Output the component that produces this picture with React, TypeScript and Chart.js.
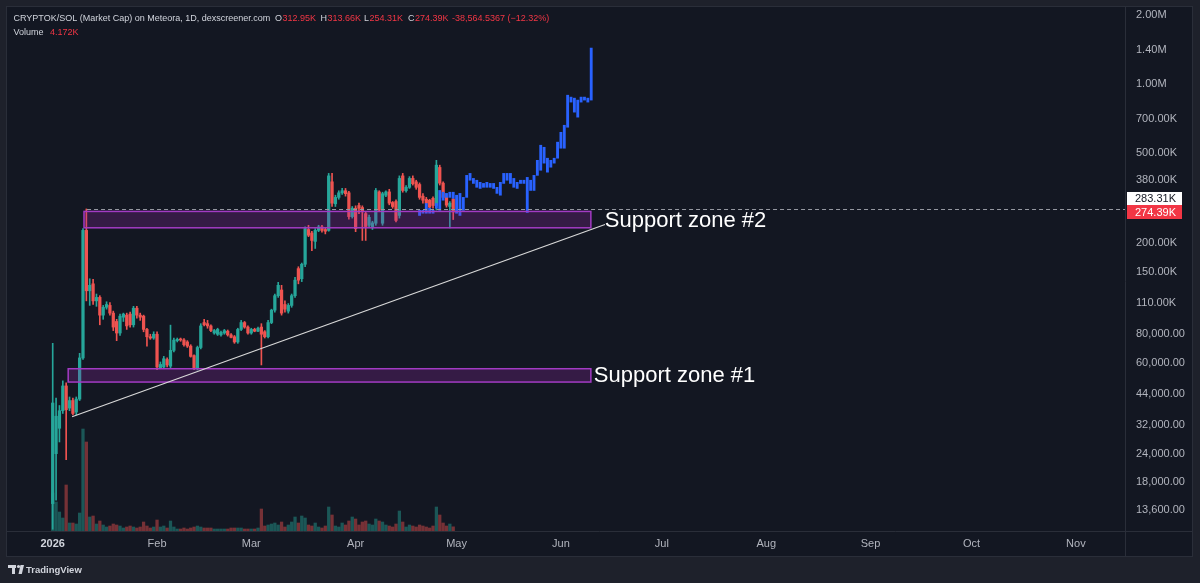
import React, { useEffect, useRef } from 'react';
import { Chart, registerables } from 'chart.js';

Chart.register(...registerables);

// ---------------- DATA ----------------
// Daily candles, day index 0 = 1 Jan 2026. Values in thousands (K) of market cap.
const firstDay = 0;
const openK = [
  14.5, 24, 31, 37, 47.5, 38, 41, 36.5, 41.6, 63,
  228, 124, 133, 112, 116, 97, 105, 107, 99, 91,
  81, 95, 97, 98, 88, 104, 97, 96, 84, 78,
  77, 80, 57, 57.5, 62, 58, 68, 75, 76, 75.5,
  74, 71, 64.5, 57, 70, 90, 89, 87, 81, 80,
  79.5, 81, 82.5, 79.5, 78, 74, 84, 90, 86, 81,
  84, 82.5, 86, 82, 78, 90, 102, 118, 125, 108,
  101, 107, 118, 155, 140, 162, 230, 222, 204, 228,
  236, 230, 228, 372, 298, 318, 333, 340, 333, 262,
  285, 293, 287, 270, 240, 236, 245, 336, 245, 325,
  336, 302, 305, 265, 395, 340, 352, 385, 372, 362,
  322, 312, 309, 315, 293, 430, 367, 318, 290, 312.95,
];
const highK = [
  73, 42, 39, 50, 49, 42.5, 42, 42.5, 66, 232,
  283, 140, 139, 120, 118, 107, 111, 110, 101, 93,
  98, 99, 99, 100, 106, 106, 99, 97, 85, 80,
  82, 82, 60.5, 64, 63, 87.7, 77, 77, 77, 76.5,
  75, 72, 65, 71, 89, 93, 92, 88, 84, 85,
  82.5, 84, 83.5, 80.5, 79, 85, 92, 91, 87, 85,
  85, 86, 89, 83, 92, 103, 120, 135, 131, 112,
  109, 120, 142, 158, 164, 236, 240, 226, 232, 240,
  240, 233, 405, 405, 325, 340, 348, 348, 338, 290,
  292, 300, 292, 275, 266, 250, 348, 340, 335, 340,
  345, 305, 310, 395, 405, 358, 392, 395, 378, 368,
  330, 318, 312, 320, 462, 440, 372, 322, 305, 313.66,
];
const lowK = [
  11.2, 15, 27, 36, 22.6, 37, 35.5, 35.5, 41, 62,
  112, 107, 108, 106, 88, 93, 103, 97, 83, 75,
  79, 91, 84, 86, 86, 94, 92, 82, 71, 76,
  76, 56, 56.5, 56.5, 57.5, 57, 67, 74, 74.5, 71,
  70, 63.5, 56, 55.8, 69, 87, 85, 82, 80, 79,
  78.5, 80, 78.5, 77, 73, 73, 83, 85, 80, 80,
  82, 82, 58.7, 77, 77, 89, 100, 116, 97, 100,
  99, 105, 116, 133, 136, 158, 214, 186, 190, 225,
  224, 220, 226, 290, 290, 312, 328, 322, 255, 258,
  225, 270, 206, 206, 236, 230, 240, 275, 240, 320,
  295, 285, 248, 258, 335, 335, 348, 360, 345, 312,
  300, 293, 280, 285, 280, 360, 312, 288, 234, 254.31,
];
const closeK = [
  40, 35, 37, 47.5, 37.4, 41, 36, 41.6, 63, 228,
  124, 131, 112, 116, 97, 105, 108, 99, 86, 81,
  96, 98, 87, 88, 104, 97, 95, 84, 78, 77,
  80, 57.5, 59, 62.5, 58.7, 68, 75.4, 76, 75.5, 72,
  71, 64, 57, 70, 87, 88, 87, 83, 83, 84,
  81.5, 83, 79.5, 77.5, 74, 84, 90, 86, 81, 84,
  82.5, 85, 80, 78, 90, 102, 118, 131, 99, 103,
  107, 118, 138, 138, 162, 232, 217, 206, 228, 236,
  228, 226, 395, 300, 318, 333, 340, 330, 262, 285,
  232, 285, 275, 237, 260, 246, 341, 280, 330, 336,
  300, 290, 252, 385, 341, 352, 385, 365, 352, 318,
  309, 300, 288, 293, 440, 367, 318, 294, 300, 274.39,
];
// Volume in thousands
const volumeK = [
  38, 29, 19, 13, 46, 8, 8, 7, 18, 102,
  89, 14, 15, 7, 10, 6, 4, 5, 7, 6,
  5, 3, 4, 5, 4, 3, 4, 9, 5, 3,
  4, 11, 4, 5, 3, 10, 4, 2, 2, 3,
  2, 3, 4, 5, 4, 3, 3, 3, 2, 2,
  2, 2, 2, 3, 3, 3, 3, 2, 2, 2,
  2, 3, 22, 5, 6, 7, 8, 6, 9, 4,
  6, 9, 14, 8, 15, 13, 6, 5, 8, 4,
  3, 5, 24, 16, 5, 4, 8, 6, 10, 14,
  12, 6, 9, 10, 7, 6, 12, 10, 9, 6,
  5, 4, 7, 20, 9, 4, 6, 5, 4, 6,
  5, 4, 3, 5, 24, 16, 8, 5, 7, 4.172,
];
// Projected ("bars pattern") blue bars, starting at day 109
const blueFirstDay = 109;
const blueHighK = [
  279, 279, 299, 285, 279, 299, 341, 335, 331, 335,
  335, 325, 331, 318, 397, 405, 385, 378, 370, 366,
  370, 366, 366, 352, 370, 405, 405, 405, 385, 370,
  378, 378, 389, 378, 397, 462, 538, 527, 472, 462,
  472, 555, 613, 658, 891, 874, 865, 848, 874, 874,
  865, 1433,
];
const blueLowK = [
  265, 271, 271, 271, 271, 285, 279, 309, 318, 318,
  315, 271, 265, 279, 318, 378, 366, 352, 348, 352,
  352, 352, 348, 331, 325, 366, 378, 366, 352, 348,
  366, 366, 273, 341, 341, 397, 418, 449, 410, 431,
  449, 472, 522, 522, 645, 831, 751, 714, 831, 848,
  831, 848,
];

// Axis ticks
const priceTicks = [13600, 18000, 24000, 32000, 44000, 60000, 80000, 110000, 150000, 200000, 380000, 500000, 700000, 1000000, 1400000, 2000000];
const monthTickDays = [0, 31, 59, 90, 120, 151, 181, 212, 243, 273, 304];
const monthTickLabels = ['2026', 'Feb', 'Mar', 'Apr', 'May', 'Jun', 'Jul', 'Aug', 'Sep', 'Oct', 'Nov'];

// Drawings (data coordinates)
const zoneNames = ['Support zone #1', 'Support zone #2'];
const zoneLowK = [49.4, 234];
const zoneHighK = [56.5, 276];
const zoneStartDays = [4.6, 9.3];
const zoneEndDays = [159.9, 159.9];
const trendDays = [5.75, 164.1];
const trendK = [34.8, 242];
const rayStartDay = 10.2;
const rayK = 283.31;
const lastK = 274.39;

// Header legend
const headerTitle = 'CRYPTOK/SOL (Market Cap) on Meteora, 1D, dexscreener.com';
const headerOHLC = [['O', '312.95K'], ['H', '313.66K'], ['L', '254.31K'], ['C', '274.39K']];
const headerChange = '-38,564.5367 (\u221212.32%)';
const headerVolume = '4.172K';

// ---------------- STYLE ----------------
const FONT = '"Liberation Sans", Arial, sans-serif';
const OUTER_BG = '#1e212b';
const PANE_BG = '#131722';
const LINE = '#2a2e39';
const TEXT = '#b2b5be';
const UP = '#26a69a';
const DOWN = '#ef5350';
const UP_VOL = 'rgba(38,166,154,0.45)';
const DOWN_VOL = 'rgba(239,83,80,0.45)';
const BLUE = '#2962ff';
const RED_TAG = '#f23645';
const X_MIN = -13.58;
const X_MAX = 318.6;
const Y_MIN = 11003;
const Y_MAX = 2168000;

function fmtPrice(v: number): string {
  if (v >= 1e6) return (v / 1e6).toFixed(2) + 'M';
  if (v >= 1e5) return (v / 1e3).toFixed(2) + 'K';
  return v.toLocaleString('en-US', { minimumFractionDigits: 2, maximumFractionDigits: 2 });
}

const decorPlugin = {
  id: 'decor',
  beforeDraw(chart: any) {
    const { ctx, width, height } = chart;
    ctx.save();
    ctx.fillStyle = OUTER_BG;
    ctx.fillRect(0, 0, width, height);
    ctx.fillStyle = PANE_BG;
    ctx.fillRect(7, 7, 1185, 549);
    ctx.restore();
  },
  afterDatasetsDraw(chart: any) {
    const { ctx, chartArea } = chart;
    const xs = chart.scales.x;
    const ys = chart.scales.y;
    ctx.save();
    ctx.beginPath();
    ctx.rect(chartArea.left, chartArea.top, chartArea.right - chartArea.left, chartArea.bottom - chartArea.top);
    ctx.clip();

    // dashed horizontal ray
    const ry = Math.round(ys.getPixelForValue(rayK * 1000)) + 0.5;
    ctx.strokeStyle = '#9598a1';
    ctx.lineWidth = 1;
    ctx.setLineDash([4, 3]);
    ctx.beginPath();
    ctx.moveTo(xs.getPixelForValue(rayStartDay), ry);
    ctx.lineTo(chartArea.right, ry);
    ctx.stroke();
    ctx.setLineDash([]);

    // zones
    for (let i = 0; i < zoneNames.length; i++) {
      const x0 = xs.getPixelForValue(zoneStartDays[i]);
      const x1 = xs.getPixelForValue(zoneEndDays[i]);
      const y0 = ys.getPixelForValue(zoneHighK[i] * 1000);
      const y1 = ys.getPixelForValue(zoneLowK[i] * 1000);
      ctx.fillStyle = 'rgba(156,39,176,0.25)';
      ctx.fillRect(x0, y0, x1 - x0, y1 - y0);
      ctx.strokeStyle = '#a33bc4';
      ctx.lineWidth = 1.5;
      ctx.strokeRect(x0, y0, x1 - x0, y1 - y0);
    }

    // trend line
    ctx.strokeStyle = '#d8d8d8';
    ctx.lineWidth = 1.2;
    ctx.beginPath();
    ctx.moveTo(xs.getPixelForValue(trendDays[0]), ys.getPixelForValue(trendK[0] * 1000));
    ctx.lineTo(xs.getPixelForValue(trendDays[1]), ys.getPixelForValue(trendK[1] * 1000));
    ctx.stroke();

    // zone labels
    const labelGap = [3, 14];
    ctx.fillStyle = '#ffffff';
    ctx.font = `22px ${FONT}`;
    ctx.textBaseline = 'middle';
    ctx.textAlign = 'left';
    for (let i = 0; i < zoneNames.length; i++) {
      const x1 = xs.getPixelForValue(zoneEndDays[i]);
      const yc = (ys.getPixelForValue(zoneHighK[i] * 1000) + ys.getPixelForValue(zoneLowK[i] * 1000)) / 2;
      ctx.fillText(zoneNames[i], x1 + labelGap[i], yc + 1);
    }
    ctx.restore();
  },
  afterDraw(chart: any) {
    const { ctx, chartArea } = chart;
    ctx.save();
    // separators / frame
    ctx.strokeStyle = LINE;
    ctx.lineWidth = 1;
    ctx.beginPath();
    ctx.moveTo(chartArea.right + 0.5, 7);
    ctx.lineTo(chartArea.right + 0.5, 556);
    ctx.moveTo(7, chartArea.bottom + 0.5);
    ctx.lineTo(1192, chartArea.bottom + 0.5);
    ctx.stroke();
    ctx.strokeRect(6.5, 6.5, 1186, 550);

    // price tags
    ctx.font = `11px ${FONT}`;
    ctx.textBaseline = 'middle';
    ctx.textAlign = 'left';
    const tagX = chartArea.right + 2;
    ctx.fillStyle = '#ffffff';
    ctx.fillRect(tagX, 192, 55, 13);
    ctx.fillStyle = '#131722';
    ctx.fillText(fmtPrice(rayK * 1000), chartArea.right + 10, 198.5);
    ctx.fillStyle = RED_TAG;
    ctx.fillRect(tagX, 205, 55, 14);
    ctx.fillStyle = '#ffffff';
    ctx.fillText(fmtPrice(lastK * 1000), chartArea.right + 10, 212.5);

    // header legend
    ctx.font = `9px ${FONT}`;
    ctx.fillStyle = '#d1d4dc';
    ctx.fillText(headerTitle, 13.5, 19);
    const anchors = [275, 320.5, 364, 408];
    headerOHLC.forEach(([k, v], i) => {
      ctx.fillStyle = '#d1d4dc';
      ctx.fillText(k, anchors[i], 19);
      ctx.fillStyle = RED_TAG;
      ctx.fillText(v, anchors[i] + ctx.measureText(k).width + 0.5, 19);
    });
    ctx.fillStyle = RED_TAG;
    ctx.fillText(headerChange, 452, 19);
    ctx.fillStyle = '#d1d4dc';
    ctx.fillText('Volume', 13.5, 33);
    ctx.fillStyle = RED_TAG;
    ctx.fillText(headerVolume, 50, 33);

    // TradingView logo
    ctx.fillStyle = '#d1d4dc';
    ctx.fillRect(8, 565, 8, 3);
    ctx.fillRect(12, 565, 3, 9);
    ctx.beginPath();
    ctx.arc(18.5, 566.5, 1.6, 0, Math.PI * 2);
    ctx.fill();
    ctx.beginPath();
    ctx.moveTo(20.5, 565);
    ctx.lineTo(24, 565);
    ctx.lineTo(21.8, 574);
    ctx.lineTo(18.5, 574);
    ctx.closePath();
    ctx.fill();
    ctx.font = `bold 9.5px ${FONT}`;
    ctx.fillText('TradingView', 26, 570);
    ctx.restore();
  },
};

export default function App() {
  const ref = useRef<HTMLCanvasElement>(null);
  useEffect(() => {
    const n = closeK.length;
    const days = closeK.map((_, i) => firstDay + i);
    const isUp = closeK.map((c, i) => c >= openK[i]);
    const bodies = days.map((d, i) => ({ x: d, y: [Math.min(openK[i], closeK[i]) * 1000, Math.max(openK[i], closeK[i]) * 1000] }));
    const wicks = days.map((d, i) => ({ x: d, y: [lowK[i] * 1000, highK[i] * 1000] }));
    const vols = days.map((d, i) => ({ x: d, y: volumeK[i] }));
    const blue = blueHighK.map((h, i) => ({ x: blueFirstDay + i, y: [blueLowK[i] * 1000, h * 1000] }));
    const candleColors = isUp.map((u) => (u ? UP : DOWN));
    const volColors = isUp.map((u) => (u ? UP_VOL : DOWN_VOL));
    void n;

    const chart = new Chart(ref.current as HTMLCanvasElement, {
      type: 'bar',
      data: {
        datasets: [
          { data: blue as any, backgroundColor: BLUE, barThickness: 2.2, grouped: false, order: 0, yAxisID: 'y', borderWidth: 0, minBarLength: 1 } as any,
          { data: bodies as any, backgroundColor: candleColors, barThickness: 2.6, grouped: false, order: 1, yAxisID: 'y', borderWidth: 0, minBarLength: 1 } as any,
          { data: wicks as any, backgroundColor: candleColors, barThickness: 1, grouped: false, order: 2, yAxisID: 'y', borderWidth: 0 } as any,
          { data: vols as any, backgroundColor: volColors, barThickness: 2.6, grouped: false, order: 3, yAxisID: 'yv', borderWidth: 0 } as any,
        ],
      },
      options: {
        animation: false,
        responsive: false,
        maintainAspectRatio: false,
        devicePixelRatio: 1,
        events: [],
        layout: { padding: { left: 7, top: 7, right: 8, bottom: 27 } },
        plugins: { legend: { display: false }, tooltip: { enabled: false } },
        scales: {
          x: {
            type: 'linear',
            min: X_MIN,
            max: X_MAX,
            offset: false,
            bounds: 'data',
            grid: { display: false, drawTicks: false },
            border: { display: false },
            ticks: {
              autoSkip: false,
              maxRotation: 0,
              minRotation: 0,
              padding: 6,
              color: (c: any) => (c.tick && c.tick.value === 0 ? '#d1d4dc' : TEXT),
              font: (c: any) => (c.tick && c.tick.value === 0 ? { family: FONT, size: 11, weight: 'bold' } : { family: FONT, size: 11 }),
              callback: (v: any) => {
                const i = monthTickDays.indexOf(Number(v));
                return i >= 0 ? monthTickLabels[i] : '';
              },
            },
            afterBuildTicks: (s: any) => {
              s.ticks = monthTickDays.map((v) => ({ value: v }));
            },
            afterFit: (s: any) => {
              s.height = 25;
              s.paddingLeft = 0;
              s.paddingRight = 0;
            },
          } as any,
          y: {
            type: 'logarithmic',
            position: 'right',
            min: Y_MIN,
            max: Y_MAX,
            bounds: 'data',
            grid: { display: false, drawTicks: false },
            border: { display: false },
            ticks: {
              autoSkip: false,
              padding: 11,
              color: TEXT,
              font: { family: FONT, size: 11 },
              callback: (v: any) => fmtPrice(Number(v)),
            },
            afterBuildTicks: (s: any) => {
              s.ticks = priceTicks.map((v) => ({ value: v }));
            },
            afterFit: (s: any) => {
              s.width = 67;
              s.paddingTop = 0;
              s.paddingBottom = 0;
            },
          } as any,
          yv: {
            type: 'linear',
            display: false,
            min: 0,
            max: 524,
          },
        },
      },
      plugins: [decorPlugin],
    });
    return () => chart.destroy();
  }, []);

  return (
    <div style={{ position: 'fixed', left: 0, top: 0, width: 1200, height: 583, background: OUTER_BG }}>
      <canvas ref={ref} width={1200} height={583} style={{ display: 'block', width: 1200, height: 583 }} />
    </div>
  );
}
